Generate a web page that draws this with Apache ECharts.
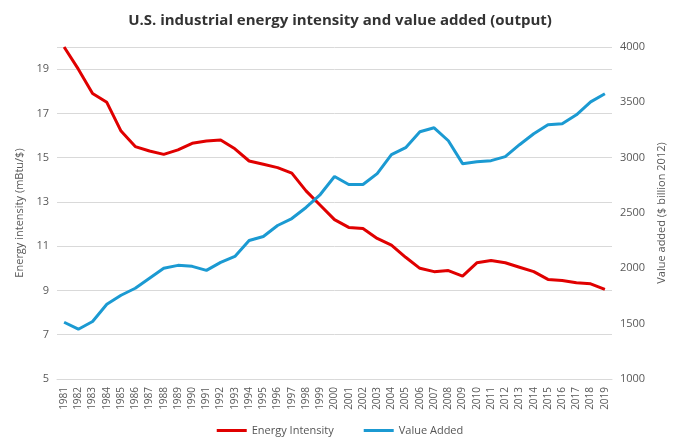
<!DOCTYPE html>
<html>
<head>
<meta charset="utf-8">
<script src="https://cdn.jsdelivr.net/npm/echarts@6/dist/echarts.min.js"></script>
<style>html,body{margin:0;padding:0;background:#fff}#chart{width:680px;height:447px}</style>
</head>
<body>
<div id="chart"></div>
<script>
const years = [];
for (let y = 1981; y <= 2019; y++) years.push(String(y));

// 能源强度 (mBtu/$)
const energyIntensity = [20.0, 19.0, 17.9, 17.5, 16.2, 15.5, 15.3, 15.15, 15.35, 15.65,
  15.75, 15.8, 15.4, 14.85, 14.7, 14.55, 14.3, 13.5, 12.85, 12.2,
  11.85, 11.8, 11.35, 11.05, 10.5, 10.0, 9.85, 9.9, 9.65, 10.25,
  10.35, 10.25, 10.05, 9.85, 9.5, 9.45, 9.35, 9.3, 9.05];

// 增加值 ($ billion 2012)
const valueAdded = [1513, 1450, 1520, 1675, 1757, 1820, 1910, 2000, 2027, 2018,
  1982, 2054, 2108, 2252, 2288, 2387, 2450, 2550, 2667, 2830,
  2757, 2757, 2856, 3027, 3090, 3234, 3270, 3153, 2946, 2964,
  2973, 3009, 3117, 3216, 3297, 3306, 3387, 3504, 3577];

const chart = echarts.init(document.getElementById('chart'));
const font = 'Open Sans';
chart.setOption({
  animation: false,
  textStyle: { fontFamily: font },
  title: {
    text: 'U.S. industrial energy intensity and value added (output)',
    left: 'center',
    top: 8,
    textStyle: { fontSize: 15, fontWeight: 'bold', color: '#333', fontFamily: font }
  },
  grid: { left: 57, right: 68, top: 47, bottom: 68 },
  legend: {
    bottom: 6,
    itemWidth: 30,
    itemGap: 30,
    icon: 'rect',
    itemHeight: 3,
    textStyle: { fontSize: 11, color: '#555' },
    data: ['Energy Intensity', 'Value Added']
  },
  xAxis: {
    type: 'category',
    data: years,
    axisTick: { show: false },
    axisLine: { lineStyle: { color: '#d9d9d9' } },
    axisLabel: { rotate: 90, interval: 0, fontSize: 10, color: '#595959' }
  },
  yAxis: [
    {
      type: 'value',
      min: 5, max: 20, interval: 2,
      name: 'Energy intensity (mBtu/$)',
      nameLocation: 'middle', nameGap: 30, nameRotate: 90,
      nameTextStyle: { fontSize: 11, color: '#595959' },
      axisLabel: { fontSize: 11, color: '#595959', showMaxLabel: false },
      splitLine: { lineStyle: { color: '#d9d9d9' } }
    },
    {
      type: 'value',
      min: 1000, max: 4000, interval: 500,
      name: 'Value added ($ billion 2012)',
      nameLocation: 'middle', nameGap: 42, nameRotate: 90,
      nameTextStyle: { fontSize: 11, color: '#595959' },
      axisLabel: { fontSize: 11, color: '#595959', formatter: v => String(v) },
      splitLine: { show: false }
    }
  ],
  series: [
    {
      name: 'Energy Intensity',
      type: 'line',
      data: energyIntensity,
      symbol: 'none',
      lineStyle: { width: 3, color: '#E00000' },
      itemStyle: { color: '#E00000' }
    },
    {
      name: 'Value Added',
      type: 'line',
      yAxisIndex: 1,
      data: valueAdded,
      symbol: 'none',
      lineStyle: { width: 3, color: '#1B9AD2' },
      itemStyle: { color: '#1B9AD2' }
    }
  ]
});
</script>
</body>
</html>
